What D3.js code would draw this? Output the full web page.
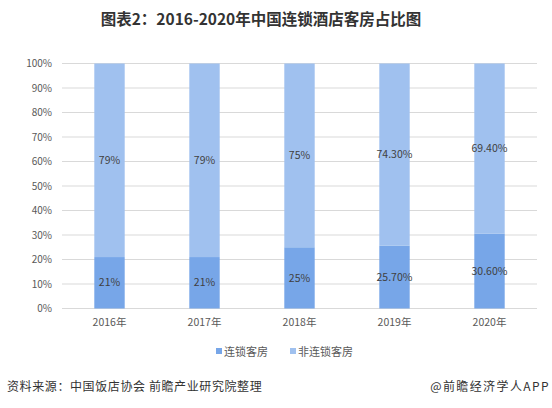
<!DOCTYPE html>
<html>
<head>
<meta charset="utf-8">
<script src="https://cdn.jsdelivr.net/npm/d3@7"></script>
<style>
  body { margin: 0; background: #fff; }
  svg text { font-family: "Microsoft YaHei", "Noto Sans CJK SC", sans-serif; }
</style>
</head>
<body>
<svg id="chart"></svg>
<script>
// chart data
var years = ["2016年", "2017年", "2018年", "2019年", "2020年"];
var chainValues = [21, 21, 25, 25.7, 30.6];
var nonChainValues = [79, 79, 75, 74.3, 69.4];
var chainLabels = ["21%", "21%", "25%", "25.70%", "30.60%"];
var nonChainLabels = ["79%", "79%", "75%", "74.30%", "69.40%"];
var seriesNames = ["连锁客房", "非连锁客房"];
var yTicks = [0, 10, 20, 30, 40, 50, 60, 70, 80, 90, 100];

var W = 552, H = 408;
var colors = ["#77a6e8", "#a0c1ef"];

var svg = d3.select("#chart").attr("width", W).attr("height", H);

// title
svg.append("text")
    .attr("x", 261).attr("y", 25)
    .attr("text-anchor", "middle")
    .attr("font-size", 15.5).attr("font-weight", "bold")
    .attr("fill", "#333")
    .text("图表2：2016-2020年中国连锁酒店客房占比图");

var x = d3.scaleBand().domain(years).range([62, 537]).paddingInner(0.68).paddingOuter(0.34);
var y = d3.scaleLinear().domain([0, 100]).range([308.5, 63.5]);

// gridlines
svg.append("g")
    .selectAll("line")
    .data(yTicks)
    .join("line")
    .attr("x1", 62).attr("x2", 537)
    .attr("y1", function(d) { return y(d) }).attr("y2", function(d) { return y(d) })
    .attr("stroke", "#d9d9d9").attr("stroke-width", 1);

// y axis
var yAxis = svg.append("g")
    .attr("transform", "translate(52,0)")
    .call(d3.axisLeft(y).tickValues(yTicks).tickSize(0).tickFormat(function(d) { return d + "%" }));
yAxis.select(".domain").remove();
yAxis.selectAll("text").attr("font-size", 10).attr("fill", "#595959").attr("x", 0);

// x axis
var xAxis = svg.append("g")
    .attr("transform", "translate(0,318)")
    .call(d3.axisBottom(x).tickSize(0));
xAxis.select(".domain").remove();
xAxis.selectAll("text").attr("font-size", 10.5).attr("fill", "#595959").attr("dy", "0.5em");

// bars
var rows = years.map(function(yr, i) {
  return { year: yr, chain: chainValues[i], nonChain: nonChainValues[i], cl: chainLabels[i], nl: nonChainLabels[i] };
});

svg.append("g").selectAll("rect")
    .data(rows).join("rect")
    .attr("x", function(d) { return x(d.year) })
    .attr("width", x.bandwidth())
    .attr("y", function(d) { return y(d.chain) })
    .attr("height", function(d) { return y(0) - y(d.chain) })
    .attr("fill", colors[0]);

svg.append("g").selectAll("rect")
    .data(rows).join("rect")
    .attr("x", function(d) { return x(d.year) })
    .attr("width", x.bandwidth())
    .attr("y", function(d) { return y(d.chain + d.nonChain) })
    .attr("height", function(d) { return y(d.chain) - y(d.chain + d.nonChain) })
    .attr("fill", colors[1]);

// data labels
svg.append("g").selectAll("text")
    .data(rows).join("text")
    .attr("x", function(d) { return x(d.year) + x.bandwidth() / 2 })
    .attr("y", function(d) { return y(d.chain / 2) })
    .attr("dy", "0.35em")
    .attr("text-anchor", "middle")
    .attr("font-size", 10.5).attr("fill", "#404040")
    .text(function(d) { return d.cl });

svg.append("g").selectAll("text")
    .data(rows).join("text")
    .attr("x", function(d) { return x(d.year) + x.bandwidth() / 2 })
    .attr("y", function(d) { return y(d.chain + d.nonChain / 2) })
    .attr("dy", "0.35em")
    .attr("text-anchor", "middle")
    .attr("font-size", 10.5).attr("fill", "#404040")
    .text(function(d) { return d.nl });

// legend
var legendX = [216, 290];
var legend = svg.append("g").selectAll("g")
    .data(seriesNames).join("g")
    .attr("transform", function(d, i) { return "translate(" + legendX[i] + ",352)" });
legend.append("rect")
    .attr("x", 0).attr("y", -4).attr("width", 6).attr("height", 6)
    .attr("fill", function(d, i) { return colors[i] });
legend.append("text")
    .attr("x", 8).attr("y", 0).attr("dy", "0.35em")
    .attr("font-size", 11).attr("fill", "#595959")
    .text(function(d) { return d });

// footer
svg.append("text")
    .attr("x", 7).attr("y", 391)
    .attr("font-size", 12).attr("fill", "#333")
    .attr("letter-spacing", 0.6)
    .text("资料来源：中国饭店协会 前瞻产业研究院整理");
svg.append("text")
    .attr("x", 550).attr("y", 391)
    .attr("text-anchor", "end")
    .attr("font-size", 12).attr("fill", "#333")
    .attr("letter-spacing", 1.4)
    .text("@前瞻经济学人APP");
</script>
</body>
</html>
